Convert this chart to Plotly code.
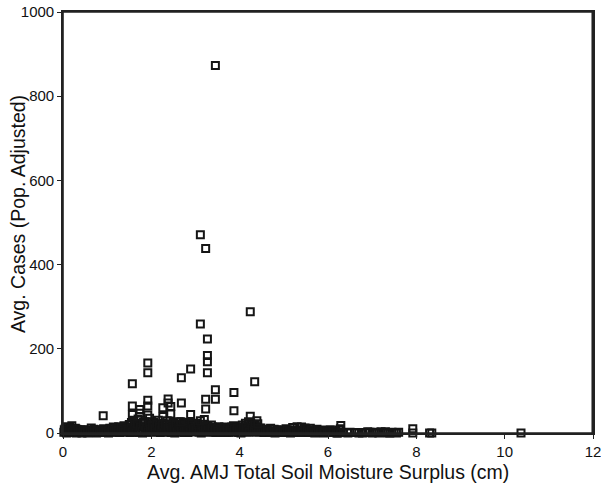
import plotly.graph_objects as go

# Outliers (x: avg AMJ total soil moisture surplus cm, y: avg cases pop. adjusted)
outlier_x = [3.45, 3.11, 3.23, 4.24, 3.11, 3.27, 3.27, 3.27, 2.89, 3.27, 2.68, 4.34, 3.45, 3.87,
             2.68, 3.23, 3.45, 3.23, 3.87, 2.89, 4.24, 4.39,
             1.92, 1.92, 1.57, 1.92, 2.38, 1.57, 2.26, 2.44, 1.74, 1.92, 2.38, 0.91, 1.57, 1.74,
             2.26, 2.44, 2.67, 3.11, 3.20, 4.41, 6.29, 7.92, 1.92]
outlier_y = [873, 471, 438, 288, 259, 223, 184, 169, 152, 143, 131, 122, 103, 96,
             71, 80, 80, 57, 53, 44, 40, 29,
             166, 143, 117, 78, 81, 64, 60, 63, 56, 64, 71, 41, 44, 47,
             39, 45, 27, 29, 32, 22, 18, 10, 43]

# Dense band of low values (first layer)
band_x = [0.02, 0.05, 0.08, 0.10, 0.12, 0.15, 0.18, 0.20, 0.22, 0.25, 0.28, 0.30, 0.33, 0.36, 0.40, 0.43, 0.46, 0.50,
          0.53, 0.56, 0.60, 0.64, 0.68, 0.72, 0.76, 0.80, 0.84, 0.88, 0.92, 0.96, 1.00,
          1.03, 1.06, 1.10, 1.14, 1.18, 1.22, 1.26, 1.30, 1.34, 1.38, 1.42, 1.46, 1.50,
          1.52, 1.55, 1.58, 1.60, 1.63, 1.66, 1.70, 1.73, 1.76, 1.80, 1.83, 1.86, 1.90, 1.93, 1.96,
          2.00, 2.03, 2.06, 2.10, 2.13, 2.16, 2.20, 2.23, 2.26, 2.30, 2.33, 2.36, 2.40, 2.43, 2.46, 2.50,
          2.53, 2.56, 2.60, 2.63, 2.66, 2.70, 2.73, 2.76, 2.80, 2.83, 2.86, 2.90, 2.93, 2.96, 3.00,
          3.03, 3.06, 3.10, 3.13, 3.16, 3.20, 3.23, 3.26, 3.30, 3.33, 3.36, 3.40, 3.43, 3.46, 3.50,
          3.53, 3.56, 3.60, 3.63, 3.66, 3.70, 3.73, 3.76, 3.80, 3.83, 3.86, 3.90, 3.93, 3.96, 4.00,
          4.03, 4.06, 4.10, 4.13, 4.16, 4.20, 4.23, 4.26, 4.30, 4.33, 4.36, 4.40, 4.43, 4.46, 4.50,
          4.55, 4.60, 4.65, 4.70, 4.75, 4.80, 4.85, 4.90, 4.95, 5.00, 5.05, 5.10, 5.15, 5.20, 5.25,
          5.30, 5.35, 5.40, 5.45, 5.50, 5.55, 5.60, 5.65, 5.70, 5.75, 5.80, 5.85, 5.90, 5.95, 6.00,
          6.05, 6.10, 6.15, 6.20, 6.25, 6.30,
          6.45, 6.60, 6.70, 6.85, 6.90, 7.00, 7.05, 7.15, 7.25, 7.30, 7.35, 7.45, 7.55, 7.60,
          7.92, 8.30, 8.35, 10.37]
band_y = [2, 10, 0, 15, 5, 13, 1, 17, 7, 3, 11, 0, 8, 2, 7, 0, 5, 1,
          7, 0, 5, 12, 2, 6, 0, 3, 7, 1, 10, 3, 8,
          0, 11, 5, 14, 2, 9, 15, 3, 10, 17, 5, 13, 20,
          1, 25, 10, 30, 3, 17, 33, 8, 23, 0, 15, 27, 5, 20, 35,
          2, 13, 25, 7, 17, 30, 1, 11, 23, 5, 15, 29, 3, 19, 10, 25,
          0, 15, 7, 27, 13, 2, 20, 9, 17, 1, 25, 11, 19, 5, 23,
          3, 13, 17, 0, 9, 21, 7, 15, 2, 11, 19, 5, 13, 1, 10,
          15, 3, 11, 5, 14, 1, 9, 13, 4, 10, 17, 2, 12, 7, 15,
          0, 19, 9, 23, 3, 27, 13, 20, 5, 17, 10, 15, 2, 11, 7,
          1, 9, 3, 11, 5, 0, 8, 2, 7, 1, 10, 5, 0, 13, 7,
          15, 2, 14, 5, 10, 1, 11, 6, 0, 9, 3, 7, 0, 5, 2,
          8, 1, 5, 0, 7, 2,
          0, 1, 0, 1, 3, 0, 2, 0, 1, 3, 0, 2, 0, 2,
          0, 0, 0, 0]

# Dense band of low values (second layer)
band2_x = [0.03, 0.07, 0.11, 0.14, 0.17, 0.21, 0.24, 0.27, 0.31, 0.35, 0.38, 0.42, 0.45, 0.49,
           0.55, 0.62, 0.66, 0.70, 0.74, 0.78, 0.82, 0.86, 0.90, 0.94, 0.98,
           1.02, 1.08, 1.12, 1.16, 1.20, 1.24, 1.28, 1.32, 1.36, 1.40, 1.44, 1.48,
           1.54, 1.57, 1.62, 1.65, 1.68, 1.72, 1.75, 1.78, 1.82, 1.85, 1.88, 1.92, 1.95, 1.98,
           2.02, 2.05, 2.08, 2.12, 2.15, 2.18, 2.22, 2.25, 2.28, 2.32, 2.35, 2.38, 2.42, 2.45, 2.48,
           2.52, 2.55, 2.58, 2.62, 2.65, 2.68, 2.72, 2.75, 2.78, 2.82, 2.85, 2.88, 2.92, 2.95, 2.98,
           3.02, 3.05, 3.08, 3.12, 3.15, 3.18, 3.22, 3.25, 3.28, 3.32, 3.35, 3.38, 3.42, 3.45, 3.48,
           3.52, 3.55, 3.58, 3.62, 3.65, 3.68, 3.72, 3.75, 3.78, 3.82, 3.85, 3.88, 3.92, 3.95, 3.98,
           4.02, 4.05, 4.08, 4.12, 4.15, 4.18, 4.22, 4.25, 4.28, 4.32, 4.35, 4.38, 4.42, 4.45, 4.48,
           4.52, 4.58, 4.62, 4.68, 4.72, 4.78, 4.82, 4.88, 4.92, 4.98, 5.02, 5.08, 5.12, 5.18, 5.22,
           5.28, 5.32, 5.38, 5.42, 5.48, 5.52, 5.58, 5.62, 5.68, 5.72, 5.78, 5.82, 5.88, 5.92, 5.98,
           6.02, 6.08, 6.12, 6.18, 6.22, 6.28, 6.35, 6.50, 6.65, 6.78, 6.95, 7.10, 7.20, 7.40, 7.50]
band2_y = [8, 1, 6, 3, 9, 2, 7, 4, 9, 1, 5, 2, 8, 3,
           4, 1, 5, 9, 2, 6, 1, 8, 3, 5, 1,
           5, 2, 8, 4, 12, 6, 1, 13, 7, 2, 9, 4,
           12, 2, 18, 6, 22, 1, 14, 5, 25, 8, 12, 2, 26, 9,
           18, 4, 10, 21, 3, 14, 7, 19, 2, 22, 8, 12, 20, 1, 15,
           9, 20, 3, 12, 18, 5, 24, 1, 13, 7, 16, 3, 22, 9, 12,
           7, 20, 2, 12, 16, 5, 11, 3, 18, 6, 9, 14, 3, 7, 12,
           5, 9, 1, 12, 3, 8, 11, 2, 7, 14, 3, 10, 4, 12, 1,
           9, 3, 13, 6, 15, 10, 2, 24, 12, 7, 20, 3, 9, 5, 12,
           6, 2, 8, 1, 4, 9, 2, 6, 1, 5, 3, 8, 2, 5, 1,
           6, 3, 7, 1, 12, 4, 2, 8, 3, 1, 6, 2, 4, 1, 6,
           2, 5, 1, 4, 0, 10, 1, 2, 1, 0, 2, 1, 3, 0, 1]

x_vals = band_x + band2_x + outlier_x
y_vals = band_y + band2_y + outlier_y

x_ticks = [0, 2, 4, 6, 8, 10, 12]
y_ticks = [0, 200, 400, 600, 800, 1000]

FONT = "Liberation Sans, Arial, sans-serif"

fig = go.Figure()
fig.add_trace(go.Scatter(
    x=x_vals, y=y_vals, mode="markers",
    marker=dict(symbol="square-open", size=7, color="#151515",
                line=dict(width=2.0, color="#151515")),
    cliponaxis=False, showlegend=False, hoverinfo="skip",
))

axis_common = dict(
    showline=True, linecolor="#222222", linewidth=1.6, mirror=True,
    ticks="outside", ticklen=4, tickwidth=1.2, tickcolor="#222222",
    showgrid=False, zeroline=False, automargin=False, ticklabeloverflow="allow",
    tickfont=dict(family=FONT, size=15, color="#111111"),
)

fig.update_xaxes(range=[0, 12], tickvals=x_ticks, ticktext=[str(t) for t in x_ticks], **axis_common)
fig.update_yaxes(range=[0, 1000], tickvals=y_ticks, ticktext=[str(t) for t in y_ticks], **axis_common)

fig.update_layout(
    width=601, height=487,
    margin=dict(l=63, r=8, t=12, b=54),
    plot_bgcolor="white", paper_bgcolor="white",
    shapes=[
        dict(type="rect", xref="paper", yref="paper", x0=0, y0=0, x1=1, y1=1,
             line=dict(color="#222222", width=1.6), layer="above"),
        dict(type="line", xref="paper", yref="paper", x0=0.999, y0=0, x1=0.999, y1=1,
             line=dict(color="#222222", width=2), layer="above"),
    ],
    annotations=[
        dict(text="Avg. AMJ Total Soil Moisture Surplus (cm)", xref="paper", yref="paper",
             x=0.5, y=-0.093, xanchor="center", yanchor="middle", showarrow=False,
             font=dict(family=FONT, size=19.5, color="#111111")),
        dict(text="Avg. Cases (Pop. Adjusted)", xref="paper", yref="paper",
             x=-0.085, y=0.52, xanchor="center", yanchor="middle", showarrow=False, textangle=-90,
             font=dict(family=FONT, size=19.5, color="#111111")),
    ],
)

fig.write_html(
    "out.html",
    config={"displayModeBar": False},
    post_script=("document.body.style.margin='0px';document.body.style.overflow='hidden';"
                 "document.documentElement.style.overflow='hidden';"),
)
